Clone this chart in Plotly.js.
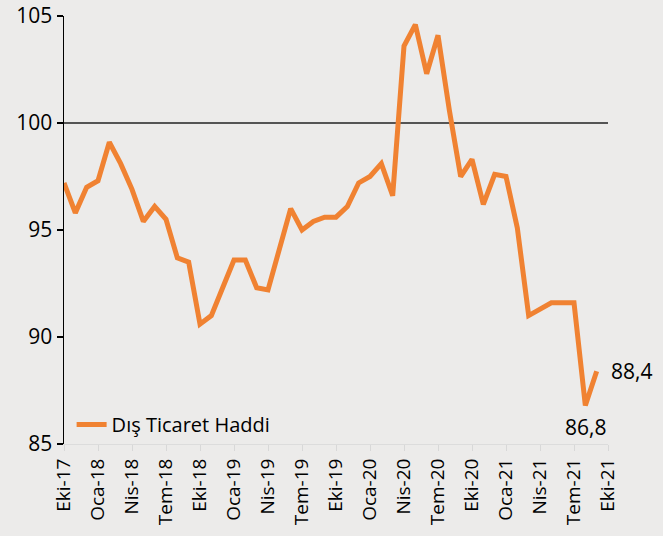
<!DOCTYPE html>
<html>
<head>
<meta charset="utf-8">
<script src="https://cdn.plot.ly/plotly-3.0.1.min.js"></script>
<style>
html,body{margin:0;padding:0;background:#ecebea;}
#chart{width:663px;height:536px;}
</style>
</head>
<body>
<div id="chart"></div>
<script>
// Months from Eki-17 (index 0) to Eyl-21 (index 47)
const monthIndex = [0,1,2,3,4,5,6,7,8,9,10,11,12,13,14,15,16,17,18,19,20,21,22,23,24,25,26,27,28,29,30,31,32,33,34,35,36,37,38,39,40,41,42,43,44,45,46,47];
const disTicaretHaddi = [97.2,95.8,97.0,97.3,99.1,98.1,96.9,95.4,96.1,95.5,93.7,93.5,
  90.6,91.0,92.3,93.6,93.6,92.3,92.2,94.2,96.0,95.0,95.4,95.6,
  95.6,96.1,97.2,97.5,98.1,96.6,103.6,104.6,102.3,104.1,100.6,97.5,
  98.3,96.2,97.6,97.5,95.1,91.0,91.3,91.6,91.6,91.6,86.8,88.4];
const tickPositions = [0,3,6,9,12,15,18,21,24,27,30,33,36,39,42,45,48];
const tickLabels = ["Eki-17","Oca-18","Nis-18","Tem-18","Eki-18","Oca-19","Nis-19","Tem-19","Eki-19","Oca-20","Nis-20","Tem-20","Eki-20","Oca-21","Nis-21","Tem-21","Eki-21"];
const seriesName = "Dış Ticaret Haddi";
const lastLabel = "88,4";
const minLabel = "86,8";

const FONT = "Open Sans, Noto Sans, sans-serif";
const n = disTicaretHaddi.length;

const trace = {
  x: monthIndex,
  y: disTicaretHaddi,
  type: "scatter",
  mode: "lines",
  name: seriesName,
  line: {color: "#f08232", width: 5}
};

const layout = {
  width: 663, height: 536,
  paper_bgcolor: "#ecebea",
  plot_bgcolor: "#ecebea",
  margin: {l: 64, r: 55, t: 16, b: 92},
  showlegend: true,
  legend: {
    x: 0.014, y: 0.0, xanchor: "left", yanchor: "bottom",
    bgcolor: "rgba(0,0,0,0)",
    font: {family: FONT, size: 20, color: "#000"},
    itemwidth: 30
  },
  xaxis: {
    range: [0, 48],
    tickmode: "array",
    tickvals: tickPositions,
    ticktext: tickLabels,
    tickangle: -90,
    ticks: "outside",
    ticklen: 6,
    tickcolor: "#d8d8d8",
    showline: true,
    linecolor: "#dcdcdc",
    linewidth: 1,
    showgrid: false,
    zeroline: false,
    tickfont: {family: FONT, size: 19, color: "#000"}
  },
  yaxis: {
    range: [85, 105],
    tickvals: [85, 90, 95, 100, 105],
    ticks: "outside",
    ticklen: 6,
    tickcolor: "#000",
    tickwidth: 1.5,
    showline: true,
    linecolor: "#000",
    linewidth: 1.5,
    showgrid: false,
    zeroline: false,
    tickfont: {family: FONT, size: 21, color: "#000"}
  },
  shapes: [{
    type: "line", xref: "paper", yref: "y",
    x0: 0, x1: 1, y0: 100, y1: 100,
    line: {color: "#222", width: 1.5},
    layer: "below"
  }],
  annotations: [
    {x: monthIndex[n-1], y: disTicaretHaddi[n-1], text: lastLabel, showarrow: false,
     xanchor: "left", yanchor: "middle", xshift: 12, yshift: 0,
     font: {family: FONT, size: 21, color: "#000"}},
    {x: monthIndex[n-2], y: disTicaretHaddi[n-2], text: minLabel, showarrow: false,
     xanchor: "center", yanchor: "top", yshift: -6,
     font: {family: FONT, size: 21, color: "#000"}}
  ]
};

Plotly.newPlot("chart", [trace], layout, {displayModeBar: false, staticPlot: true});
</script>
</body>
</html>
